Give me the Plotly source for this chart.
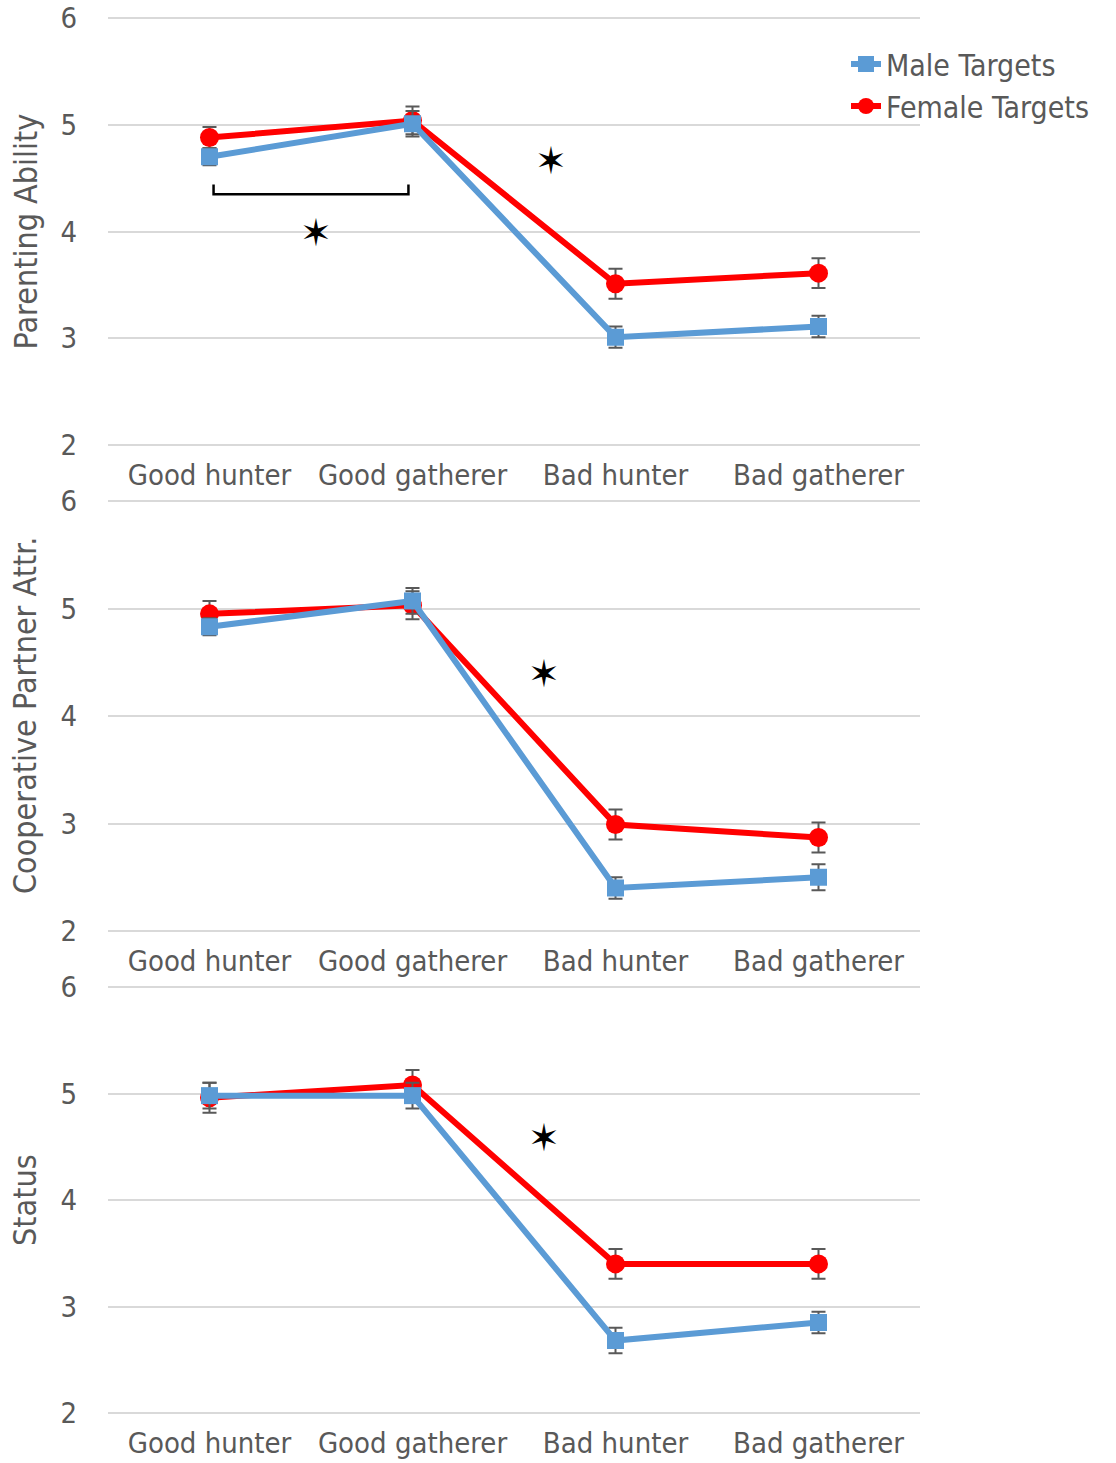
import plotly.graph_objects as go

categories = ["Good hunter", "Good gatherer", "Bad hunter", "Bad gatherer"]
panel_titles = ["Parenting Ability", "Cooperative Partner Attr.", "Status"]

male_vals = [
    [4.70, 5.01, 3.01, 3.11],
    [4.83, 5.07, 2.40, 2.50],
    [4.98, 4.98, 2.68, 2.85],
]
male_err = [
    [0.08, 0.12, 0.10, 0.10],
    [0.08, 0.12, 0.10, 0.12],
    [0.12, 0.12, 0.12, 0.10],
]
female_vals = [
    [4.88, 5.04, 3.51, 3.61],
    [4.95, 5.03, 2.99, 2.87],
    [4.96, 5.08, 3.40, 3.40],
]
female_err = [
    [0.10, 0.13, 0.14, 0.14],
    [0.12, 0.13, 0.14, 0.14],
    [0.14, 0.14, 0.14, 0.14],
]

# significance star positions (panel index, x in category units, y value)
star_panel = [0, 0, 1, 2]
star_x = [0.525, 1.68, 1.65, 1.65]
star_y = [3.99, 4.66, 4.39, 4.58]
# bracket in panel 1
bracket_x = [0.02, 0.98]
bracket_y = [4.35, 4.44]

BLUE = "#5B9BD5"
RED = "#FF0000"
GRAY = "#595959"
GRID = "#D9D9D9"
FONT = "DejaVu Sans Condensed"

W, H = 1116, 1463
# pixel positions of value 6 (top) and value 2 (bottom) in each panel
panel_px = [(18, 445), (501, 931), (987, 1413)]
x_dom = [108 / W, 920 / W]
PAD = 0.1  # extra range so edge gridlines are drawn

fig = go.Figure()
layout = {}
for i in range(3):
    sfx = "" if i == 0 else str(i + 1)
    xa, ya = "x" + sfx, "y" + sfx
    fig.add_trace(go.Scatter(
        x=categories, y=female_vals[i], xaxis=xa, yaxis=ya,
        mode="lines+markers", name="Female Targets", legendrank=2,
        showlegend=(i == 0),
        line=dict(color=RED, width=6),
        marker=dict(symbol="circle", size=19, color=RED),
        error_y=dict(type="data", array=female_err[i], color=GRAY, thickness=2, width=7),
    ))
    fig.add_trace(go.Scatter(
        x=categories, y=male_vals[i], xaxis=xa, yaxis=ya,
        mode="lines+markers", name="Male Targets", legendrank=1,
        showlegend=(i == 0),
        line=dict(color=BLUE, width=6),
        marker=dict(symbol="square", size=17, color=BLUE),
        error_y=dict(type="data", array=male_err[i], color=GRAY, thickness=2, width=7),
    ))
    top, bot = panel_px[i]
    scale = (bot - top) / 4.0
    ptop = top - PAD * scale
    pbot = bot + PAD * scale
    layout["xaxis" + sfx] = dict(
        domain=x_dom, anchor=ya, type="category", range=[-0.5, 3.5],
        showgrid=False, zeroline=False, showline=False, automargin=False,
        tickfont=dict(family=FONT, size=29, color=GRAY),
        ticklabelstandoff=int(round(10 - PAD * scale)),
    )
    layout["yaxis" + sfx] = dict(
        domain=[1 - pbot / H, 1 - ptop / H], anchor=xa,
        range=[2 - PAD, 6 + PAD],
        tickvals=[2, 3, 4, 5, 6], showgrid=True, gridcolor=GRID, gridwidth=2,
        zeroline=False, showline=False, automargin=False,
        tickfont=dict(family=FONT, size=29, color=GRAY),
        ticklabelstandoff=30,
    )
    fig.add_annotation(
        x=25 / W, y=1 - (top + bot) / 2 / H, xref="paper", yref="paper",
        xanchor="center", yanchor="middle",
        text=panel_titles[i], textangle=-90, showarrow=False,
        font=dict(family=FONT, size=32, color=GRAY),
    )

for p, sx, sy in zip(star_panel, star_x, star_y):
    sfx = "" if p == 0 else str(p + 1)
    fig.add_annotation(
        x=sx, y=sy, xref="x" + sfx, yref="y" + sfx, text="✶", showarrow=False,
        xanchor="center", yanchor="middle",
        font=dict(family="DejaVu Sans", size=38, color="black"),
    )

fig.add_shape(
    type="path", xref="x", yref="y",
    path=f"M {bracket_x[0]},{bracket_y[1]} L {bracket_x[0]},{bracket_y[0]} "
         f"L {bracket_x[1]},{bracket_y[0]} L {bracket_x[1]},{bracket_y[1]}",
    line=dict(color="black", width=2.5),
)

fig.update_layout(
    width=W, height=H, margin=dict(l=0, r=0, t=0, b=0, autoexpand=False),
    paper_bgcolor="white", plot_bgcolor="white",
    showlegend=True,
    legend=dict(
        x=846 / W, y=1 - 38 / H, xanchor="left", yanchor="top",
        font=dict(family=FONT, size=30, color=GRAY),
        bgcolor="rgba(0,0,0,0)", itemwidth=30, tracegroupgap=0,
    ),
    **layout,
)

fig.write_html("out.html")
